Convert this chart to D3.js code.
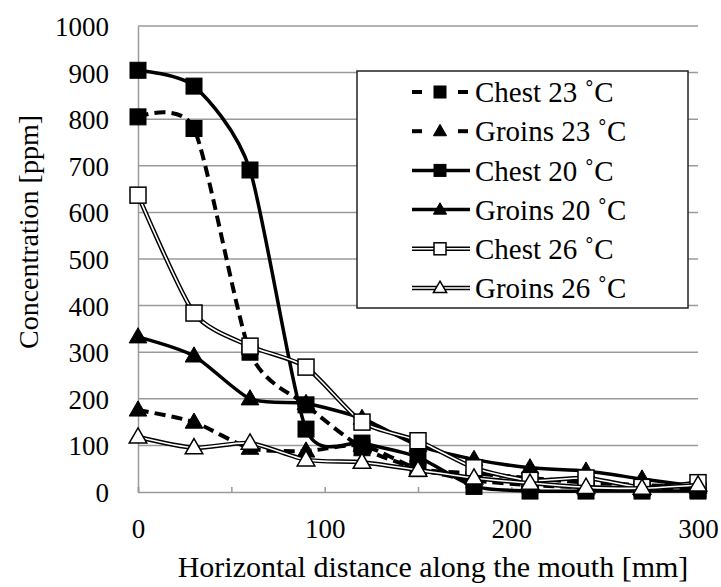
<!DOCTYPE html>
<html><head><meta charset="utf-8">
<script src="https://cdn.jsdelivr.net/npm/d3@7"></script>
<style>body{margin:0;background:#fff}svg{display:block}
svg text{font-family:"Liberation Serif","Times New Roman",Times,"DejaVu Serif",serif !important}</style>
</head><body><svg id="c" width="721" height="587"></svg>
<script>
const distances = [0, 30, 60, 90, 120, 150, 180, 210, 240, 270, 300];
const chest23  = [805, 780, 300, 187, 95, 50, 25, 15, 10, 8, 5];
const groins23 = [176, 150, 94, 88, 100, 50, 40, 30, 20, 15, 10];
const chest20  = [905, 871, 691, 135, 105, 75, 12, 2, 2, 2, 2];
const groins20 = [333, 292, 200, 190, 158, 100, 70, 52, 45, 28, 12];
const chest26  = [637, 384, 313, 268, 150, 110, 52, 25, 30, 10, 20];
const groins26 = [118, 95, 105, 69, 64, 47, 30, 19, 10, 8, 15];
const seriesNames = ["Chest 23 \u02DAC", "Groins 23 \u02DAC", "Chest 20 \u02DAC", "Groins 20 \u02DAC", "Chest 26 \u02DAC", "Groins 26 \u02DAC"];
const yTicks = [0, 100, 200, 300, 400, 500, 600, 700, 800, 900, 1000];
const xTickMarks = [0, 50, 100, 150, 200, 250, 300];
const xTickLabels = [0, 100, 200, 300];

const series = [
  {name: seriesNames[0], values: chest23,  style: "dash",   marker: "square"},
  {name: seriesNames[1], values: groins23, style: "dash",   marker: "triangle"},
  {name: seriesNames[2], values: chest20,  style: "solid",  marker: "square"},
  {name: seriesNames[3], values: groins20, style: "solid",  marker: "triangle"},
  {name: seriesNames[4], values: chest26,  style: "double", marker: "square"},
  {name: seriesNames[5], values: groins26, style: "double", marker: "triangle"}
];

const svg = d3.select("#c");
const x = d3.scaleLinear().domain([0, 300]).range([138, 698]);
const y = d3.scaleLinear().domain([0, 1000]).range([492, 26]);
const grid = "#9a9a9a";

svg.append("g").selectAll("line").data(yTicks.filter(d => d > 0)).join("line")
  .attr("x1", x(0)).attr("x2", x(300)).attr("y1", d => y(d)).attr("y2", d => y(d))
  .attr("stroke", grid).attr("stroke-width", 1.5);

const yAxis = svg.append("g").attr("transform", `translate(${x(0)},0)`)
  .call(d3.axisLeft(y).tickValues(yTicks).tickSize(0).tickPadding(29).tickFormat(d3.format("d")));
yAxis.attr("font-family", null);
yAxis.select(".domain").attr("stroke", grid).attr("stroke-width", 1.5);
yAxis.selectAll("text").style("font-size", "27px").attr("fill", "#000").attr("dy", "0.35em");

const xAxis = svg.append("g").attr("transform", `translate(0,${y(0)})`)
  .call(d3.axisBottom(x).tickValues(xTickMarks).tickSize(-5).tickFormat(d => xTickLabels.includes(d) ? d : ""));
xAxis.attr("font-family", null);
xAxis.select(".domain").attr("stroke", grid).attr("stroke-width", 1.5);
xAxis.selectAll(".tick line").attr("stroke", grid).attr("stroke-width", 1.5);
xAxis.selectAll("text").style("font-size", "27px").attr("fill", "#000").attr("y", 27).attr("dy", "0.71em");

svg.append("text").attr("x", 433).attr("y", 577).attr("text-anchor", "middle")
  .style("font-size", "30px").text("Horizontal distance along the mouth [mm]");
svg.append("text").attr("transform", "translate(38,232) rotate(-90)").attr("text-anchor", "middle")
  .style("font-size", "28px").text("Concentration [ppm]");

svg.append("rect").attr("x", 357).attr("y", 71).attr("width", 331).attr("height", 237)
  .attr("fill", "#fff").attr("stroke", "#222").attr("stroke-width", 1.5);

function drawPath(g, pts, style, curve) {
  const line = d3.line().x(d => d[0]).y(d => d[1]).curve(curve);
  if (style === "double") {
    g.append("path").attr("d", line(pts)).attr("fill", "none").attr("stroke", "#000").attr("stroke-width", 4.5);
    g.append("path").attr("d", line(pts)).attr("fill", "none").attr("stroke", "#fff").attr("stroke-width", 1.6);
  } else {
    const p = g.append("path").attr("d", line(pts)).attr("fill", "none").attr("stroke", "#000")
      .attr("stroke-width", style === "dash" ? 4 : 3.5);
    if (style === "dash") p.attr("stroke-dasharray", "11,6");
  }
}
function drawMarker(g, cx, cy, marker, open, size) {
  const fill = open ? "#fff" : "#000";
  if (marker === "square") {
    g.append("rect").attr("x", cx - size / 2).attr("y", cy - size / 2).attr("width", size).attr("height", size)
      .attr("fill", fill).attr("stroke", "#000").attr("stroke-width", open ? 1.5 : 1);
  } else {
    const h = size * 0.95, w = size * 1.1;
    g.append("path").attr("d", `M${cx},${cy - h * 0.6}L${cx + w / 2},${cy + h * 0.4}L${cx - w / 2},${cy + h * 0.4}Z`)
      .attr("fill", fill).attr("stroke", "#000").attr("stroke-width", open ? 1.5 : 1);
  }
}

const curve = d3.curveCardinal.tension(0.3);
series.forEach(s => {
  const g = svg.append("g");
  const pts = distances.map((d, i) => [x(d), y(s.values[i])]);
  drawPath(g, pts, s.style, curve);
  pts.forEach(p => drawMarker(g, p[0], p[1], s.marker, s.style === "double", 16));
});

series.forEach((s, i) => {
  const cy = 92 + i * 39.2;
  const g = svg.append("g");
  if (s.style === "dash") {
    g.append("line").attr("x1", 412).attr("x2", 422).attr("y1", cy).attr("y2", cy).attr("stroke", "#000").attr("stroke-width", 4);
    g.append("line").attr("x1", 458).attr("x2", 468).attr("y1", cy).attr("y2", cy).attr("stroke", "#000").attr("stroke-width", 4);
  } else {
    drawPath(g, [[412, cy], [470, cy]], s.style, d3.curveLinear);
  }
  drawMarker(g, 440, cy, s.marker, s.style === "double", 12);
  g.append("text").attr("x", 475).attr("y", cy).attr("dy", "0.35em")
    .style("font-size", "29px").attr("fill", "#000").text(s.name);
});
</script></body></html>
